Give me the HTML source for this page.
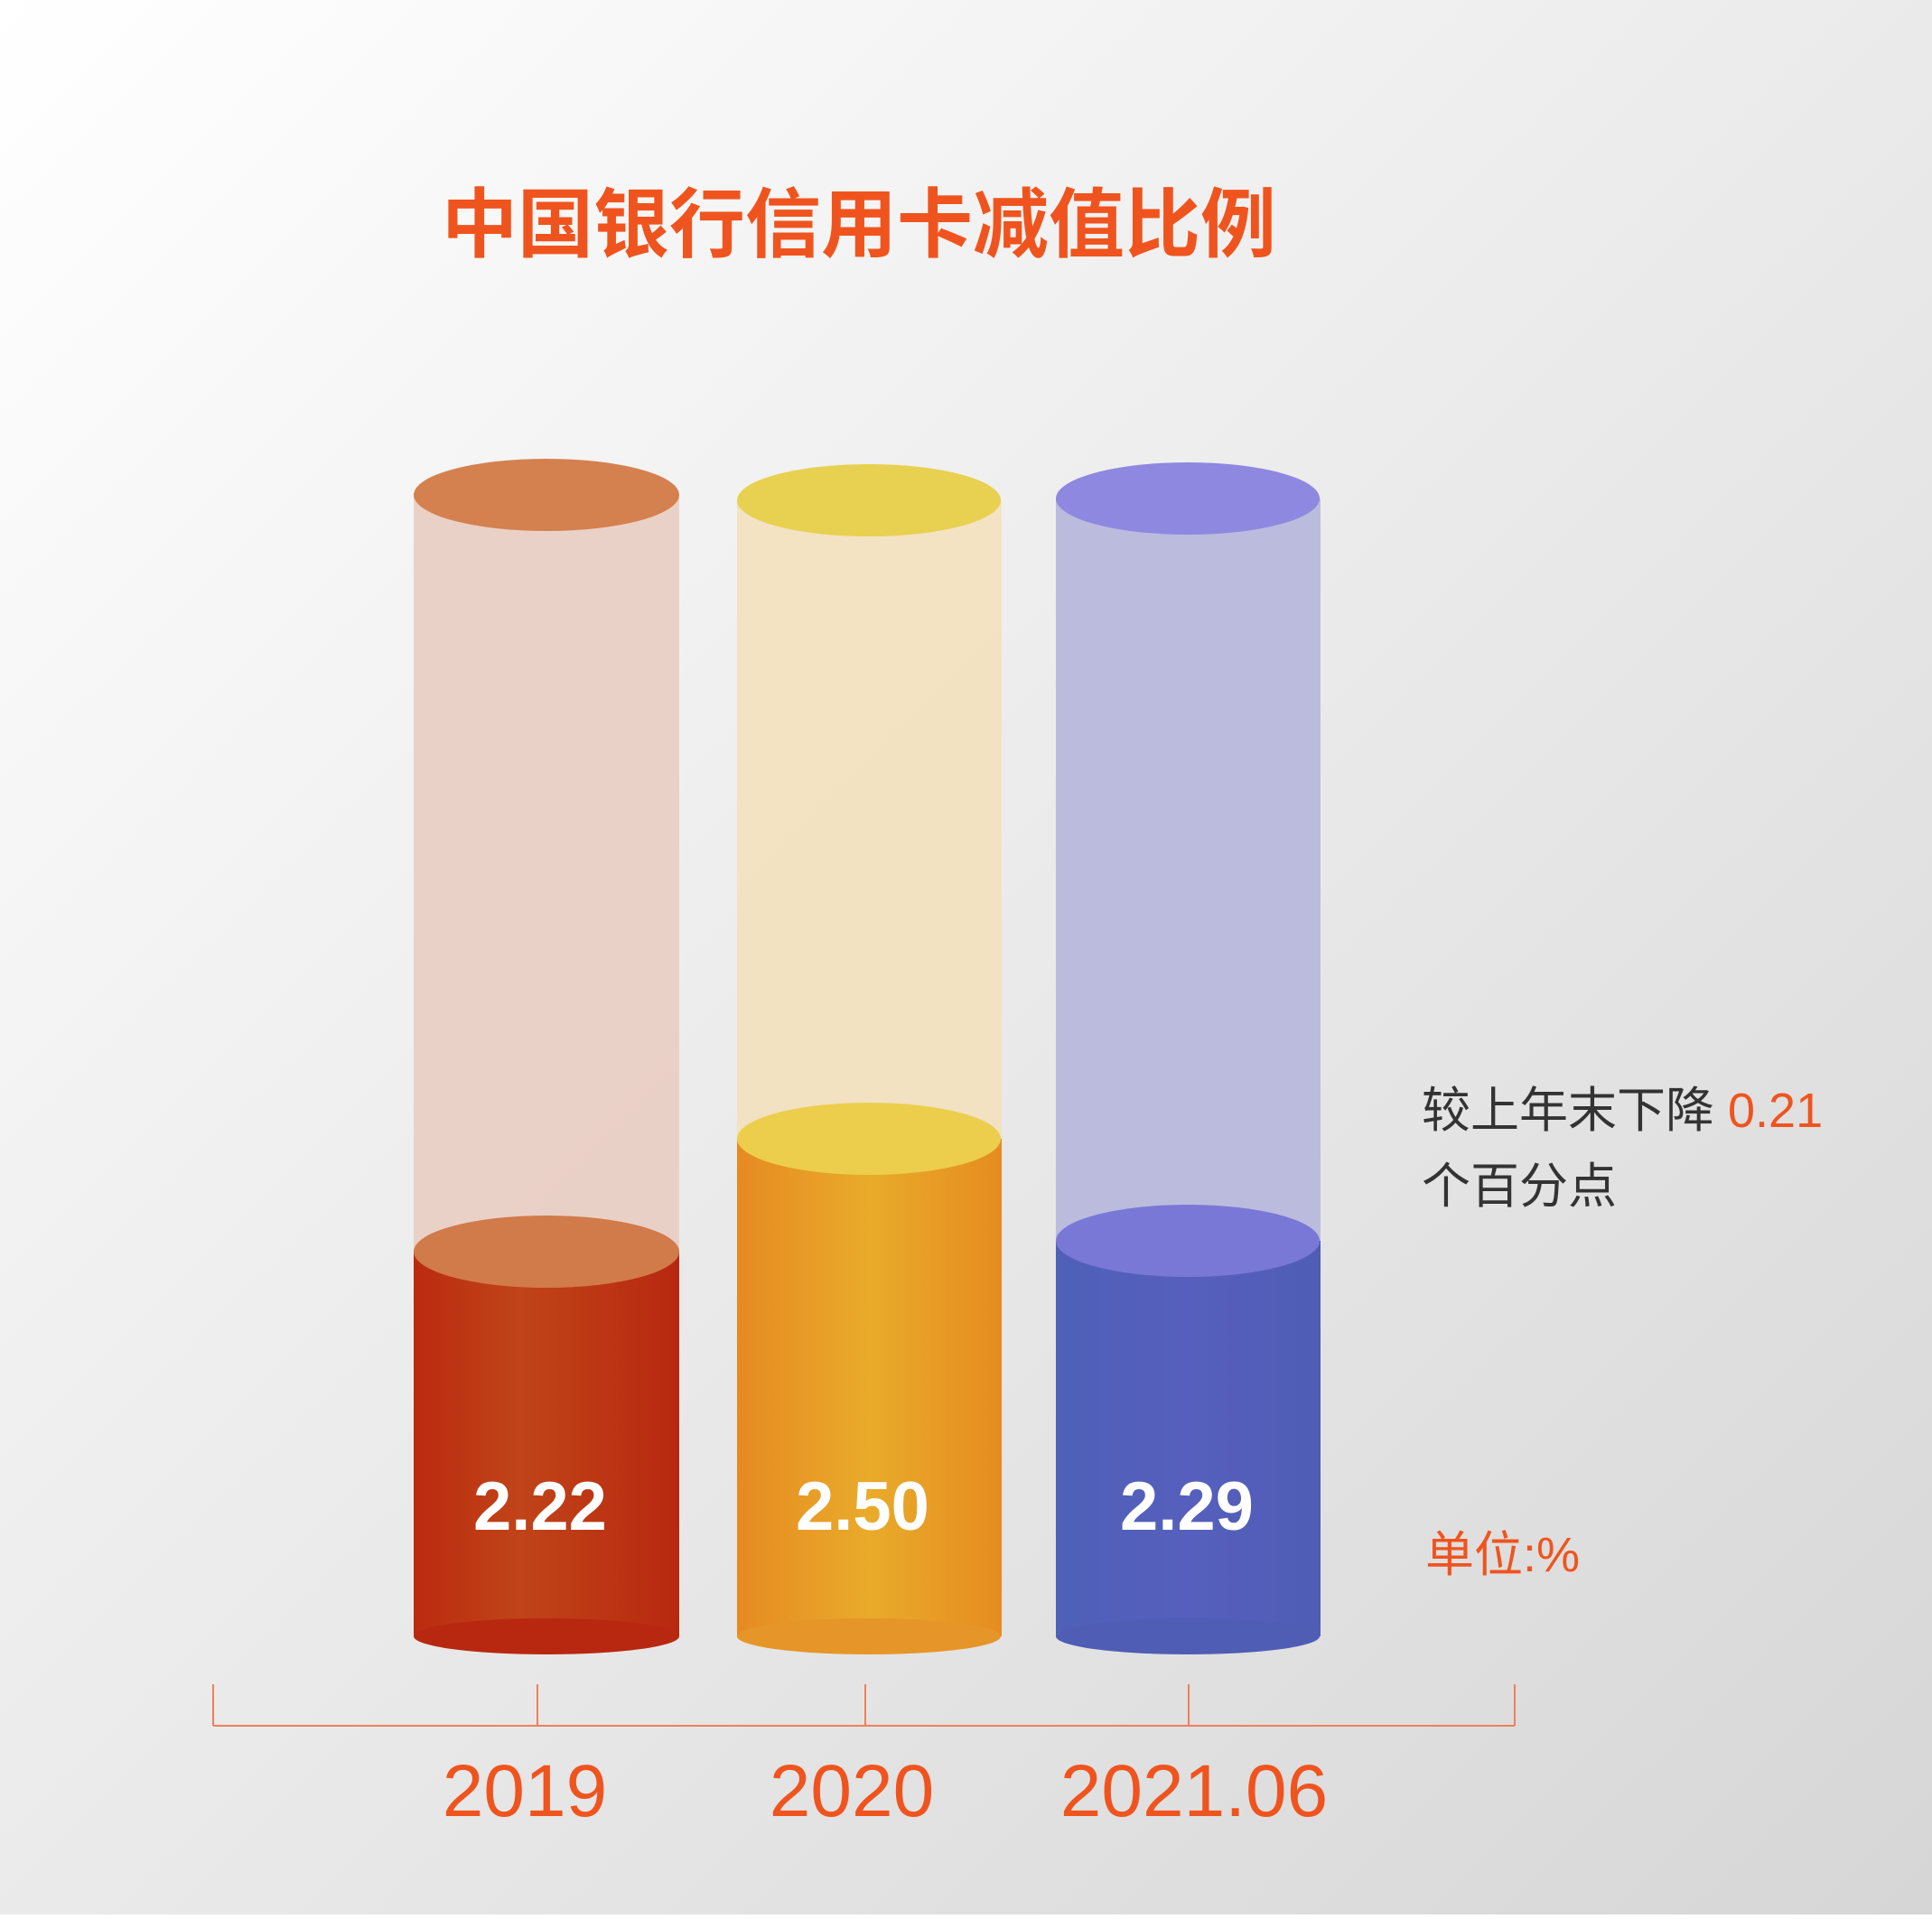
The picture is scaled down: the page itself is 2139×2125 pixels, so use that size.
<!DOCTYPE html>
<html><head><meta charset="utf-8"><style>
html,body{margin:0;padding:0;}
body{width:2139px;height:2120px;overflow:hidden;}
</style></head><body>
<svg width="2139" height="2120" viewBox="0 0 2139 2120" xmlns="http://www.w3.org/2000/svg" font-family="'Liberation Sans','Noto Sans CJK SC',sans-serif">
<defs>
<linearGradient id="bg" x1="0" y1="0" x2="1" y2="1">
<stop offset="0" stop-color="#ffffff"/><stop offset="1" stop-color="#d6d6d6"/></linearGradient>
<linearGradient id="f1" x1="0" x2="1"><stop offset="0" stop-color="#bb2a10"/><stop offset="0.4" stop-color="#c04418"/><stop offset="1" stop-color="#b82810"/></linearGradient>
<linearGradient id="f2" x1="0" x2="1"><stop offset="0" stop-color="#e68a22"/><stop offset="0.5" stop-color="#e9ab2a"/><stop offset="1" stop-color="#e68c20"/></linearGradient>
<linearGradient id="f3" x1="0" x2="1"><stop offset="0" stop-color="#4e60b8"/><stop offset="0.5" stop-color="#565fbd"/><stop offset="1" stop-color="#4f5db5"/></linearGradient>
</defs>
<rect width="2139" height="2120" fill="url(#bg)"/>
<text x="951" y="278" text-anchor="middle" font-size="84" font-weight="bold" fill="#f0541e">中国银行信用卡减值比例</text>

<!-- cylinder 1 -->
<rect x="458" y="548" width="294" height="838" fill="#e9cdc2" opacity="0.9"/>
<rect x="458" y="1386" width="294" height="426" fill="url(#f1)"/>
<ellipse cx="605" cy="1812" rx="147" ry="20" fill="#b82810"/>
<ellipse cx="605" cy="1386" rx="147" ry="40" fill="#d17a4a"/>
<ellipse cx="605" cy="548" rx="147" ry="40" fill="#d4814f"/>
<!-- cylinder 2 -->
<rect x="816" y="554" width="293" height="707" fill="#f2e2c0" opacity="0.95"/>
<rect x="816" y="1261" width="293" height="551" fill="url(#f2)"/>
<ellipse cx="962" cy="1812" rx="146" ry="20" fill="#e69528"/>
<ellipse cx="962" cy="1261" rx="146" ry="40" fill="#ecce4c"/>
<ellipse cx="962" cy="554" rx="146" ry="40" fill="#e8d050"/>
<!-- cylinder 3 -->
<rect x="1169" y="552" width="293" height="822" fill="#bbbcdd"/>
<rect x="1169" y="1374" width="293" height="438" fill="url(#f3)"/>
<ellipse cx="1315" cy="1812" rx="146" ry="20" fill="#4f5db5"/>
<ellipse cx="1315" cy="1374" rx="146" ry="40" fill="#7a78d6"/>
<ellipse cx="1315" cy="552" rx="146" ry="40" fill="#8f88e0"/>

<g font-size="76" font-weight="bold" fill="#fff" text-anchor="middle">
<text x="598" y="1694">2.22</text>
<text x="955" y="1694">2.50</text>
<text x="1314" y="1694">2.29</text>
</g>

<g stroke="#f0805a" stroke-width="2" fill="none">
<line x1="236" y1="1911" x2="1677" y2="1911"/>
<line x1="236" y1="1865" x2="236" y2="1911"/>
<line x1="595" y1="1865" x2="595" y2="1911"/>
<line x1="958" y1="1865" x2="958" y2="1911"/>
<line x1="1316" y1="1865" x2="1316" y2="1911"/>
<line x1="1677" y1="1865" x2="1677" y2="1911"/>
</g>
<g font-size="82" fill="#f0541e" text-anchor="middle">
<text x="581" y="2011">2019</text>
<text x="943" y="2011">2020</text>
<text x="1322" y="2011">2021.06</text>
</g>
<text x="1574" y="1248" font-size="54" fill="#333">较上年末下降 <tspan fill="#f0541e">0.21</tspan></text>
<text x="1574" y="1332" font-size="54" fill="#333">个百分点</text>
<text x="1578" y="1740" font-size="54" fill="#f0541e">单位:%</text>
</svg>
</body></html>
